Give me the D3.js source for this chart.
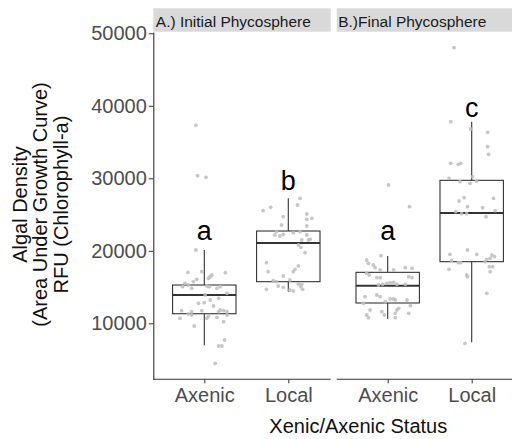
<!DOCTYPE html>
<html><head><meta charset="utf-8">
<script src="https://cdn.jsdelivr.net/npm/d3@7"></script>
<style>body{margin:0;background:#fff}svg{display:block;font-family:"Liberation Sans",Arial,sans-serif}</style>
</head><body><svg id="c" width="512" height="439"></svg>
<script>
const panels = ["A.) Initial Phycosphere", "B.)Final Phycosphere"];
const categories = ["Axenic", "Local"];
const yTicks = [10000, 20000, 30000, 40000, 50000];
const xTitle = "Xenic/Axenic Status";
const yTitle = ["Algal Density", "(Area Under Growth Curve)", "RFU (Chlorophyll-a)"];

// groups: [panel index, category index]
const groupPanel = [0, 0, 1, 1];
const groupCat = [0, 1, 0, 1];
const whiskerLow  = [6970, 14360, 10590, 7380];
const q1          = [11320, 15740, 12800, 18500];
const median      = [13900, 21080, 15190, 25210];
const q3          = [15280, 22730, 17030, 29720];
const whiskerHigh = [20100, 27240, 19280, 37810];
const letters = ["a", "b", "a", "c"];
const letterY = [21490, 28390, 21490, 38450];

// jittered points: [offset in category units, value]
const p1Axenic = [[-0.10,20110],[-0.195,17034],[-0.03,17117],[0.25,16979],[0.09,16662],[0.07,16428],[0.05,16207],[-0.09,16069],[-0.13,15738],[-0.23,15517],[-0.19,15283],[0.03,15145],[0.06,15048],[0.19,15048],[-0.15,14828],[0.15,14828],[-0.26,15048],[0.27,14138],[0.01,13903],[0.17,13448],[0.07,13214],[-0.07,12759],[0.00,12841],[0.11,12386],[-0.27,11738],[-0.15,11600],[-0.03,11738],[0.19,11834],[0.23,11738],[0.27,11600],[-0.19,11283],[-0.15,11145],[0.17,11600],[-0.29,10690],[0.03,10690],[0.05,11007],[0.15,10828],[0.23,10221],[0.27,11145],[-0.12,9628],[0.24,7697],[0.17,6869],[0.21,6869],[0.13,4483],[-0.10,37310],[-0.08,30359],[0.02,30138]];
const p1Local = [[0.14,27241],[0.11,26317],[-0.21,26000],[-0.30,25531],[-0.06,24703],[0.22,25076],[0.28,24483],[0.22,24345],[-0.08,23559],[0.22,23421],[-0.14,22634],[-0.16,22179],[-0.10,22041],[-0.06,22276],[0.06,22497],[0.14,22634],[0.22,22179],[0.16,21490],[0.24,21490],[0.26,21586],[0.12,20800],[0.15,20483],[0.20,19738],[-0.26,18359],[0.12,17903],[0.08,17448],[0.06,17117],[-0.24,17117],[-0.06,16524],[-0.18,15876],[-0.14,15738],[0.02,15972],[0.12,15421],[0.15,15048],[0.17,14690],[-0.26,14690],[-0.12,15145],[-0.06,14966],[0.02,14593],[0.06,14455],[0.16,15379]];
const p2Axenic = [[-0.08,19324],[-0.25,18731],[-0.23,18276],[-0.17,18041],[-0.15,17669],[0.21,17669],[0.29,17586],[-0.09,17352],[0.07,17352],[-0.25,16897],[-0.22,16662],[0.25,16428],[0.29,16290],[-0.13,16290],[-0.09,16290],[-0.11,15283],[-0.06,15379],[-0.01,15517],[0.03,15600],[0.07,15655],[0.11,15379],[0.21,15379],[-0.27,13669],[-0.13,13903],[-0.09,13669],[0.03,13352],[0.07,13352],[0.09,13214],[0.23,13214],[-0.03,12979],[-0.29,12759],[-0.21,11834],[0.27,12428],[0.11,11834],[0.13,12069],[-0.07,11600],[-0.04,11145],[-0.25,11145],[-0.23,10772],[0.09,11379],[0.25,11379],[0.09,10772],[0.26,26083],[0.01,29076]];
const p2Local = [[-0.25,37807],[-0.01,36800],[0.19,36345],[0.19,34359],[0.20,33310],[-0.25,32069],[-0.16,31931],[-0.13,32069],[-0.27,30000],[-0.14,29531],[-0.02,29310],[0.01,30221],[0.06,29628],[-0.09,27324],[-0.15,26869],[0.26,27241],[-0.05,26083],[0.13,25945],[-0.19,25393],[-0.12,25117],[-0.06,25117],[0.28,25531],[0.17,24703],[-0.21,48014],[-0.05,20110],[-0.26,19517],[0.06,19517],[0.24,19421],[0.27,19186],[0.22,18966],[0.18,18828],[0.16,18497],[-0.24,18634],[-0.16,18359],[-0.13,18359],[-0.27,17448],[0.21,17807],[0.25,17807],[0.22,17117],[-0.06,16662],[-0.05,16428],[0.18,14138],[-0.08,7241]];
const groupPoints = [p1Axenic, p1Local, p2Axenic, p2Local];

const svg = d3.select("#c");
const panelTop = 32, panelBottom = 379.3, stripTop = 8.3;
const panelX = [[153.3, 330.7], [336.7, 512]];
const y = d3.scaleLinear().domain([2276, 50179]).range([panelBottom, panelTop]);
const xs = panelX.map(([l]) => d3.scalePoint().domain(categories).range([l + 51, l + 135]));
const step = 84;
const font = '"Liberation Sans",Arial,sans-serif';

// strips
panels.forEach((p, i) => {
  const [l, r] = panelX[i];
  svg.append("rect").attr("x", l).attr("y", stripTop).attr("width", r - l).attr("height", panelTop - stripTop - 0.3).attr("fill", "#d9d9d9");
  svg.append("text").attr("x", l + (i === 0 ? 2.5 : 1.5)).attr("y", 27).attr("font-size", 15.5).attr("fill", "#1a1a1a").text(p);
});

// y axis
const yAxis = svg.append("g").attr("transform", `translate(${panelX[0][0]},0)`)
  .call(d3.axisLeft(y).tickValues(yTicks).tickSize(4.5).tickSizeOuter(0).tickPadding(2).tickFormat(d3.format("d")));
yAxis.select(".domain").attr("stroke", "#333").attr("stroke-width", 1.1);
yAxis.selectAll(".tick line").attr("stroke", "#333");
yAxis.selectAll(".tick text").attr("font-size", 20).attr("fill", "#4d4d4d").attr("font-family", font);

// x axes
xs.forEach((xsc, i) => {
  const g = svg.append("g").attr("transform", `translate(0,${panelBottom})`)
    .call(d3.axisBottom(xsc).tickSize(4).tickSizeOuter(0).tickPadding(5));
  g.select(".domain").attr("d", `M${panelX[i][0]},0H${panelX[i][1]}`).attr("stroke", "#333").attr("stroke-width", 1.1);
  g.selectAll(".tick line").attr("stroke", "#333");
  g.selectAll(".tick text").attr("font-size", 20).attr("fill", "#4d4d4d").attr("font-family", font).attr("dy", "0.71em");
});

// boxes
const bw = 0.755 * step;
groupPanel.forEach((p, gi) => {
  const cx = xs[p](categories[groupCat[gi]]);
  const g = svg.append("g").attr("stroke", "#333").attr("fill", "none");
  g.append("line").attr("x1", cx).attr("x2", cx).attr("y1", y(q3[gi])).attr("y2", y(whiskerHigh[gi])).attr("stroke-width", 1.1);
  g.append("line").attr("x1", cx).attr("x2", cx).attr("y1", y(q1[gi])).attr("y2", y(whiskerLow[gi])).attr("stroke-width", 1.1);
  g.append("rect").attr("x", cx - bw / 2).attr("width", bw).attr("y", y(q3[gi])).attr("height", y(q1[gi]) - y(q3[gi])).attr("fill", "#fff").attr("stroke-width", 1.1);
  g.append("line").attr("x1", cx - bw / 2).attr("x2", cx + bw / 2).attr("y1", y(median[gi])).attr("y2", y(median[gi])).attr("stroke-width", 2);
  // points
  svg.append("g").selectAll("circle").data(groupPoints[gi]).join("circle")
    .attr("cx", d => cx + d[0] * step).attr("cy", d => y(d[1])).attr("r", 1.9)
    .attr("fill", "#bdbdbd").attr("fill-opacity", 0.85);
  svg.append("text").attr("x", cx).attr("y", y(letterY[gi])).attr("text-anchor", "middle")
    .attr("font-size", 27).attr("fill", "#000").text(letters[gi]);
});

// titles
svg.append("text").attr("x", 358.3).attr("y", 433).attr("text-anchor", "middle").attr("font-size", 20).attr("fill", "#111").text(xTitle);
const yt = svg.append("text").attr("transform", "translate(0,204.5) rotate(-90)").attr("text-anchor", "middle").attr("font-size", 20).attr("fill", "#111");
yTitle.forEach((t, i) => yt.append("tspan").attr("x", 0).attr("y", 26.7 + i * 20.5).text(t));
</script></body></html>
